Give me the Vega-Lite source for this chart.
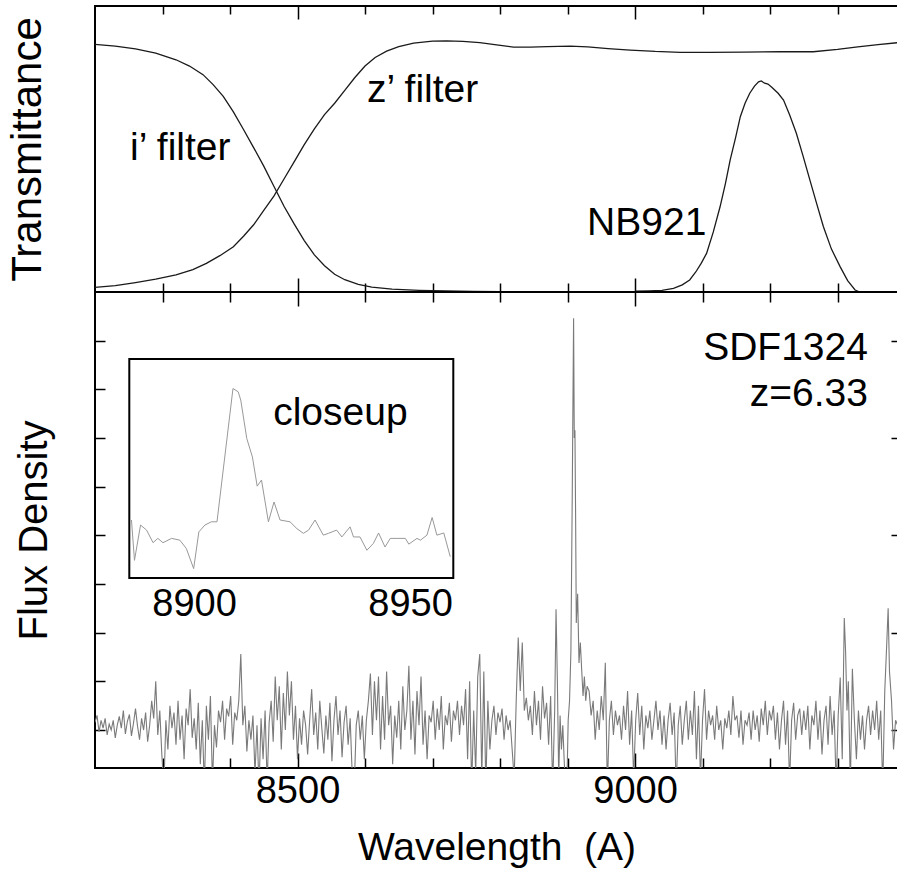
{
  "$schema": "https://vega.github.io/schema/vega-lite/v6.json",
  "padding": {"left": 4, "top": 4, "right": 0, "bottom": 0},
  "spacing": 0,
  "bounds": "flush",
  "config": {
    "font": "Liberation Sans",
    "view": {"stroke": "black", "strokeWidth": 2},
    "axis": {"domain": false, "grid": false, "labelFont": "Liberation Sans", "labelFontSize": 38, "labelColor": "black", "titleFont": "Liberation Sans", "titleFontSize": 40, "titleFontWeight": "normal", "titleColor": "black", "tickColor": "black", "tickWidth": 1.5, "zindex": 1},
    "text": {"font": "Liberation Sans", "fontSize": 39, "color": "black"}
  },
  "vconcat": [
    {
      "width": 803,
      "height": 286,
      "layer": [
        {
          "data": {"values": [
            {"filter":"i","w":8200,"t":0.866},{"filter":"i","w":8230,"t":0.86},{"filter":"i","w":8260,"t":0.85},{"filter":"i","w":8290,"t":0.835},{"filter":"i","w":8320,"t":0.812},{"filter":"i","w":8340,"t":0.79},{"filter":"i","w":8360,"t":0.76},{"filter":"i","w":8375,"t":0.725},{"filter":"i","w":8390,"t":0.684},{"filter":"i","w":8405,"t":0.63},{"filter":"i","w":8420,"t":0.568},{"filter":"i","w":8435,"t":0.505},{"filter":"i","w":8450,"t":0.44},{"filter":"i","w":8465,"t":0.37},{"filter":"i","w":8480,"t":0.3},{"filter":"i","w":8495,"t":0.238},{"filter":"i","w":8510,"t":0.18},{"filter":"i","w":8525,"t":0.13},{"filter":"i","w":8540,"t":0.092},{"filter":"i","w":8555,"t":0.062},{"filter":"i","w":8570,"t":0.043},{"filter":"i","w":8590,"t":0.027},{"filter":"i","w":8610,"t":0.017},{"filter":"i","w":8640,"t":0.01},{"filter":"i","w":8680,"t":0.006},{"filter":"i","w":8720,"t":0.004},{"filter":"i","w":8760,"t":0.002},{"filter":"i","w":8800,"t":0.001},
            {"filter":"z","w":8200,"t":0.016},{"filter":"z","w":8230,"t":0.022},{"filter":"z","w":8260,"t":0.033},{"filter":"z","w":8290,"t":0.045},{"filter":"z","w":8320,"t":0.06},{"filter":"z","w":8345,"t":0.078},{"filter":"z","w":8365,"t":0.1},{"filter":"z","w":8385,"t":0.127},{"filter":"z","w":8405,"t":0.158},{"filter":"z","w":8420,"t":0.195},{"filter":"z","w":8435,"t":0.235},{"filter":"z","w":8450,"t":0.285},{"filter":"z","w":8465,"t":0.335},{"filter":"z","w":8480,"t":0.395},{"filter":"z","w":8495,"t":0.455},{"filter":"z","w":8510,"t":0.515},{"filter":"z","w":8525,"t":0.57},{"filter":"z","w":8540,"t":0.62},{"filter":"z","w":8555,"t":0.66},{"filter":"z","w":8570,"t":0.705},{"filter":"z","w":8585,"t":0.75},{"filter":"z","w":8600,"t":0.79},{"filter":"z","w":8615,"t":0.82},{"filter":"z","w":8632,"t":0.842},{"filter":"z","w":8650,"t":0.858},{"filter":"z","w":8672,"t":0.87},{"filter":"z","w":8700,"t":0.877},{"filter":"z","w":8721,"t":0.878},{"filter":"z","w":8745,"t":0.876},{"filter":"z","w":8770,"t":0.872},{"filter":"z","w":8795,"t":0.864},{"filter":"z","w":8820,"t":0.856},{"filter":"z","w":8845,"t":0.856},{"filter":"z","w":8870,"t":0.858},{"filter":"z","w":8904,"t":0.86},{"filter":"z","w":8930,"t":0.857},{"filter":"z","w":8960,"t":0.851},{"filter":"z","w":8993,"t":0.846},{"filter":"z","w":9030,"t":0.841},{"filter":"z","w":9067,"t":0.838},{"filter":"z","w":9110,"t":0.838},{"filter":"z","w":9160,"t":0.839},{"filter":"z","w":9215,"t":0.84},{"filter":"z","w":9264,"t":0.84},{"filter":"z","w":9300,"t":0.848},{"filter":"z","w":9330,"t":0.857},{"filter":"z","w":9360,"t":0.865},{"filter":"z","w":9390,"t":0.872},
            {"filter":"nb","w":9000,"t":0.003},{"filter":"nb","w":9020,"t":0.004},{"filter":"nb","w":9040,"t":0.006},{"filter":"nb","w":9057,"t":0.013},{"filter":"nb","w":9070,"t":0.025},{"filter":"nb","w":9081,"t":0.042},{"filter":"nb","w":9090,"t":0.07},{"filter":"nb","w":9098,"t":0.1},{"filter":"nb","w":9106,"t":0.135},{"filter":"nb","w":9116,"t":0.21},{"filter":"nb","w":9126,"t":0.298},{"filter":"nb","w":9134,"t":0.38},{"filter":"nb","w":9141,"t":0.462},{"filter":"nb","w":9149,"t":0.54},{"filter":"nb","w":9156,"t":0.613},{"filter":"nb","w":9163,"t":0.66},{"filter":"nb","w":9170,"t":0.695},{"filter":"nb","w":9177,"t":0.72},{"filter":"nb","w":9183,"t":0.735},{"filter":"nb","w":9187,"t":0.738},{"filter":"nb","w":9192,"t":0.73},{"filter":"nb","w":9197,"t":0.727},{"filter":"nb","w":9203,"t":0.715},{"filter":"nb","w":9212,"t":0.695},{"filter":"nb","w":9220,"t":0.671},{"filter":"nb","w":9229,"t":0.62},{"filter":"nb","w":9239,"t":0.555},{"filter":"nb","w":9249,"t":0.475},{"filter":"nb","w":9259,"t":0.392},{"filter":"nb","w":9269,"t":0.31},{"filter":"nb","w":9279,"t":0.229},{"filter":"nb","w":9291,"t":0.15},{"filter":"nb","w":9304,"t":0.088},{"filter":"nb","w":9315,"t":0.04},{"filter":"nb","w":9326,"t":0.007},{"filter":"nb","w":9333,"t":0.0}
          ]},
          "mark": {"type": "line", "color": "#1a1a1a", "strokeWidth": 1.3},
          "encoding": {
            "x": {"field": "w", "type": "quantitative", "scale": {"domain": [8200, 9389.6], "nice": false, "zero": false},
                  "axis": {"orient": "bottom", "values": [8300,8400,8500,8600,8700,8800,8900,9000,9100,9200,9300], "labels": false, "title": null,
                           "tickSize": {"condition": {"test": "datum.value % 500 === 0", "value": -14}, "value": -9}}},
            "y": {"field": "t", "type": "quantitative", "scale": {"domain": [0, 1], "nice": false},
                  "axis": {"ticks": false, "labels": false, "title": "Transmittance", "titleFontSize": 42, "titlePadding": 46}},
            "detail": {"field": "filter"}
          }
        },
        {
          "data": {"values": [
            {"label": "i’ filter", "w": 8252, "t": 0.4615},
            {"label": "z’ filter", "w": 8603, "t": 0.664},
            {"label": "NB921", "w": 8929, "t": 0.199}
          ]},
          "mark": {"type": "text", "align": "left", "baseline": "alphabetic"},
          "encoding": {
            "x": {"field": "w", "type": "quantitative", "scale": {"domain": [8200, 9389.6], "nice": false, "zero": false},
                  "axis": {"orient": "top", "values": [8300,8400,8500,8600,8700,8800,8900,9000,9100,9200,9300], "labels": false, "title": null,
                           "tickSize": {"condition": {"test": "datum.value % 500 === 0", "value": -13}, "value": -8}}},
            "y": {"field": "t", "type": "quantitative", "scale": {"domain": [0, 1], "nice": false}, "axis": null},
            "text": {"field": "label"}
          }
        }
      ],
      "resolve": {"axis": {"x": "independent", "y": "independent"}}
    },
    {
      "width": 803,
      "height": 476,
      "layer": [
        {
          "layer": [
            {
              "data": {"values": [
                {"w":8200,"f":0.08},{"w":8203,"f":0.15},{"w":8206,"f":-0.02},{"w":8209,"f":0.10},{"w":8212,"f":0.02},{"w":8215,"f":0.12},{"w":8218,"f":-0.05},{"w":8221,"f":0.06},{"w":8224,"f":0.00},{"w":8227,"f":0.10},{"w":8230,"f":-0.08},{"w":8233,"f":0.05},{"w":8236,"f":0.14},{"w":8239,"f":0.02},{"w":8242,"f":0.20},{"w":8245,"f":-0.04},{"w":8248,"f":0.09},{"w":8251,"f":0.16},{"w":8254,"f":-0.06},{"w":8257,"f":0.07},{"w":8260,"f":0.22},{"w":8263,"f":0.04},{"w":8266,"f":-0.10},{"w":8269,"f":0.12},{"w":8272,"f":0.00},{"w":8275,"f":0.18},{"w":8278,"f":-0.12},
                {"w":8281,"f":0.05},{"w":8284,"f":0.30},{"w":8287,"f":0.12},{"w":8290,"f":0.50},{"w":8293,"f":-0.05},{"w":8296,"f":0.20},{"w":8299,"f":-0.25},{"w":8302,"f":-0.60},{"w":8305,"f":0.10},{"w":8308,"f":-0.20},{"w":8311,"f":0.25},{"w":8314,"f":0.02},{"w":8317,"f":0.18},{"w":8320,"f":-0.15},{"w":8323,"f":0.30},{"w":8326,"f":-0.10},{"w":8329,"f":0.15},{"w":8332,"f":-0.30},{"w":8335,"f":0.22},{"w":8338,"f":0.05},{"w":8341,"f":0.42},{"w":8344,"f":-0.08},{"w":8347,"f":0.12},{"w":8350,"f":-0.20},{"w":8353,"f":0.28},{"w":8356,"f":-0.35},{"w":8359,"f":0.10},{"w":8362,"f":-0.60},{"w":8365,"f":0.25},{"w":8368,"f":-0.10},{"w":8371,"f":0.35},{"w":8374,"f":-0.55},{"w":8377,"f":0.05},{"w":8380,"f":-0.18},{"w":8383,"f":0.20},{"w":8386,"f":0.08},{"w":8389,"f":0.30},{"w":8392,"f":-0.10},{"w":8395,"f":0.22},{"w":8398,"f":0.14},
                {"w":8401,"f":0.35},{"w":8404,"f":-0.15},{"w":8407,"f":0.18},{"w":8410,"f":0.10},{"w":8413,"f":0.30},{"w":8416,"f":0.78},{"w":8419,"f":0.05},{"w":8422,"f":0.25},{"w":8425,"f":-0.22},{"w":8428,"f":0.10},{"w":8431,"f":-0.10},{"w":8434,"f":0.15},{"w":8437,"f":-0.45},{"w":8440,"f":0.05},{"w":8443,"f":-0.60},{"w":8446,"f":0.12},{"w":8449,"f":-0.30},{"w":8452,"f":0.20},{"w":8455,"f":-0.55},{"w":8458,"f":0.08},{"w":8461,"f":0.30},{"w":8464,"f":-0.12},{"w":8467,"f":0.55},{"w":8470,"f":0.10},{"w":8473,"f":0.45},{"w":8476,"f":-0.20},{"w":8479,"f":0.38},{"w":8482,"f":0.00},{"w":8485,"f":0.60},{"w":8488,"f":0.15},{"w":8491,"f":0.50},{"w":8494,"f":-0.10},{"w":8497,"f":0.25},
                {"w":8500,"f":-0.30},{"w":8503,"f":0.12},{"w":8506,"f":-0.15},{"w":8509,"f":0.20},{"w":8512,"f":0.05},{"w":8515,"f":-0.25},{"w":8518,"f":0.10},{"w":8521,"f":0.42},{"w":8524,"f":-0.05},{"w":8527,"f":0.18},{"w":8530,"f":-0.20},{"w":8533,"f":0.30},{"w":8536,"f":0.02},{"w":8539,"f":-0.24},{"w":8542,"f":0.15},{"w":8545,"f":-0.10},{"w":8548,"f":0.28},{"w":8551,"f":-0.32},{"w":8554,"f":0.10},{"w":8557,"f":0.35},{"w":8560,"f":-0.05},{"w":8563,"f":0.20},{"w":8566,"f":-0.28},{"w":8569,"f":0.08},{"w":8572,"f":0.25},{"w":8575,"f":-0.15},{"w":8578,"f":0.12},{"w":8581,"f":-0.45},{"w":8584,"f":-0.60},{"w":8587,"f":0.05},{"w":8590,"f":0.20},{"w":8593,"f":-0.10},{"w":8596,"f":0.15},{"w":8599,"f":-0.30},
                {"w":8602,"f":0.10},{"w":8605,"f":0.30},{"w":8608,"f":0.58},{"w":8611,"f":-0.05},{"w":8614,"f":0.50},{"w":8617,"f":0.10},{"w":8620,"f":0.55},{"w":8623,"f":-0.20},{"w":8626,"f":0.35},{"w":8629,"f":-0.10},{"w":8632,"f":0.60},{"w":8635,"f":0.05},{"w":8638,"f":0.25},{"w":8641,"f":-0.35},{"w":8644,"f":0.15},{"w":8647,"f":-0.08},{"w":8650,"f":0.30},{"w":8653,"f":-0.20},{"w":8656,"f":0.45},{"w":8659,"f":0.00},{"w":8662,"f":0.20},{"w":8665,"f":0.66},{"w":8668,"f":-0.10},{"w":8671,"f":0.30},{"w":8674,"f":-0.25},{"w":8677,"f":0.40},{"w":8680,"f":0.05},{"w":8683,"f":0.55},{"w":8686,"f":-0.15},{"w":8689,"f":0.20},{"w":8692,"f":-0.30},{"w":8695,"f":0.15},{"w":8698,"f":0.08},
                {"w":8701,"f":0.30},{"w":8704,"f":-0.10},{"w":8707,"f":0.22},{"w":8710,"f":0.00},{"w":8713,"f":0.35},{"w":8716,"f":-0.20},{"w":8719,"f":0.15},{"w":8722,"f":0.05},{"w":8725,"f":0.28},{"w":8728,"f":-0.12},{"w":8731,"f":0.20},{"w":8734,"f":0.10},{"w":8737,"f":0.30},{"w":8740,"f":-0.05},{"w":8743,"f":0.25},{"w":8746,"f":0.05},{"w":8749,"f":0.42},{"w":8752,"f":-0.30},{"w":8755,"f":0.50},{"w":8758,"f":-0.60},{"w":8761,"f":0.20},{"w":8764,"f":-0.45},{"w":8767,"f":0.55},{"w":8770,"f":0.78},{"w":8773,"f":-0.50},{"w":8776,"f":0.60},{"w":8779,"f":-0.60},{"w":8782,"f":0.30},{"w":8785,"f":-0.20},{"w":8788,"f":0.10},{"w":8791,"f":0.25},{"w":8794,"f":-0.05},{"w":8797,"f":0.18},
                {"w":8800,"f":0.08},{"w":8803,"f":0.22},{"w":8806,"f":-0.10},{"w":8809,"f":0.15},{"w":8812,"f":0.00},{"w":8815,"f":0.10},{"w":8818,"f":-0.20},{"w":8821,"f":-0.50},{"w":8824,"f":0.30},{"w":8827,"f":0.95},{"w":8830,"f":0.40},{"w":8833,"f":0.90},{"w":8836,"f":0.20},{"w":8839,"f":0.33},{"w":8842,"f":0.10},{"w":8845,"f":0.25},{"w":8848,"f":-0.05},{"w":8851,"f":0.40},{"w":8854,"f":0.05},{"w":8857,"f":0.30},{"w":8860,"f":-0.10},{"w":8863,"f":0.45},{"w":8866,"f":0.12},{"w":8869,"f":0.28},{"w":8872,"f":-0.15},{"w":8875,"f":0.35},{"w":8878,"f":-0.60},{"w":8881,"f":0.20},{"w":8883,"f":1.24},{"w":8885,"f":0.50},{"w":8887,"f":-0.50},{"w":8889,"f":0.15},{"w":8891,"f":-0.20},{"w":8893,"f":0.05},{"w":8895,"f":-0.30},{"w":8897,"f":-0.60},{"w":8899,"f":-0.60},
                {"w":8901,"f":0.10},{"w":8903,"f":0.30},{"w":8905,"f":0.80},{"w":8907,"f":2.40},{"w":8909,"f":4.23},{"w":8910,"f":3.00},{"w":8911,"f":3.08},{"w":8912,"f":2.20},{"w":8913,"f":1.10},{"w":8915,"f":1.40},{"w":8917,"f":0.69},{"w":8919,"f":0.90},{"w":8921,"f":0.62},{"w":8923,"f":0.35},{"w":8925,"f":0.55},{"w":8927,"f":0.30},{"w":8929,"f":0.45},{"w":8932,"f":0.40},{"w":8935,"f":0.15},{"w":8938,"f":0.30},{"w":8941,"f":-0.10},{"w":8944,"f":0.20},{"w":8947,"f":0.00},{"w":8950,"f":0.35},{"w":8953,"f":0.10},{"w":8956,"f":0.69},{"w":8959,"f":-0.60},{"w":8962,"f":0.10},{"w":8965,"f":0.30},{"w":8968,"f":-0.05},{"w":8971,"f":0.20},{"w":8974,"f":0.05},{"w":8977,"f":0.15},{"w":8980,"f":-0.10},{"w":8983,"f":0.25},{"w":8986,"f":0.00},{"w":8989,"f":0.40},{"w":8992,"f":-0.15},{"w":8995,"f":0.20},{"w":8998,"f":-0.50},
                {"w":9001,"f":0.10},{"w":9004,"f":0.38},{"w":9007,"f":-0.05},{"w":9010,"f":0.25},{"w":9013,"f":-0.20},{"w":9016,"f":0.15},{"w":9019,"f":0.02},{"w":9022,"f":0.20},{"w":9025,"f":-0.10},{"w":9028,"f":0.10},{"w":9031,"f":0.30},{"w":9034,"f":0.00},{"w":9037,"f":0.20},{"w":9040,"f":-0.15},{"w":9043,"f":0.15},{"w":9046,"f":-0.20},{"w":9049,"f":0.10},{"w":9052,"f":0.28},{"w":9055,"f":-0.05},{"w":9058,"f":0.18},{"w":9061,"f":-0.60},{"w":9064,"f":0.05},{"w":9067,"f":0.25},{"w":9070,"f":-0.15},{"w":9073,"f":0.10},{"w":9076,"f":0.30},{"w":9079,"f":-0.10},{"w":9082,"f":0.20},{"w":9085,"f":-0.05},{"w":9088,"f":0.40},{"w":9091,"f":-0.30},{"w":9094,"f":0.25},{"w":9097,"f":-0.50},
                {"w":9100,"f":0.10},{"w":9103,"f":0.42},{"w":9106,"f":-0.10},{"w":9109,"f":0.20},{"w":9112,"f":0.05},{"w":9115,"f":0.15},{"w":9118,"f":-0.10},{"w":9121,"f":0.25},{"w":9124,"f":0.00},{"w":9127,"f":0.10},{"w":9130,"f":-0.20},{"w":9133,"f":0.12},{"w":9136,"f":0.02},{"w":9139,"f":0.20},{"w":9142,"f":-0.05},{"w":9145,"f":0.35},{"w":9148,"f":0.10},{"w":9151,"f":0.15},{"w":9154,"f":-0.08},{"w":9157,"f":0.20},{"w":9160,"f":-0.15},{"w":9163,"f":0.10},{"w":9166,"f":0.05},{"w":9169,"f":0.18},{"w":9172,"f":-0.10},{"w":9175,"f":0.20},{"w":9178,"f":0.00},{"w":9181,"f":0.15},{"w":9184,"f":-0.12},{"w":9187,"f":0.22},{"w":9190,"f":0.05},{"w":9193,"f":0.30},{"w":9196,"f":-0.05},{"w":9199,"f":0.20},
                {"w":9202,"f":0.10},{"w":9205,"f":0.25},{"w":9208,"f":-0.10},{"w":9211,"f":0.18},{"w":9214,"f":-0.20},{"w":9217,"f":0.10},{"w":9220,"f":0.30},{"w":9223,"f":-0.15},{"w":9226,"f":0.20},{"w":9229,"f":-0.55},{"w":9232,"f":0.10},{"w":9235,"f":0.28},{"w":9238,"f":-0.10},{"w":9241,"f":0.15},{"w":9244,"f":0.22},{"w":9247,"f":-0.05},{"w":9250,"f":0.20},{"w":9253,"f":0.00},{"w":9256,"f":0.25},{"w":9259,"f":-0.20},{"w":9262,"f":0.15},{"w":9265,"f":0.05},{"w":9268,"f":0.30},{"w":9271,"f":-0.10},{"w":9274,"f":0.20},{"w":9277,"f":-0.25},{"w":9280,"f":0.10},{"w":9283,"f":0.25},{"w":9286,"f":-0.15},{"w":9289,"f":0.35},{"w":9292,"f":-0.05},{"w":9295,"f":0.20},{"w":9298,"f":-0.60},
                {"w":9301,"f":0.15},{"w":9304,"f":0.54},{"w":9307,"f":-0.30},{"w":9310,"f":1.15},{"w":9312,"f":0.80},{"w":9314,"f":0.20},{"w":9316,"f":0.50},{"w":9319,"f":-0.60},{"w":9322,"f":0.63},{"w":9325,"f":0.10},{"w":9328,"f":-0.30},{"w":9331,"f":0.20},{"w":9334,"f":-0.10},{"w":9337,"f":0.15},{"w":9340,"f":-0.20},{"w":9343,"f":0.10},{"w":9346,"f":0.25},{"w":9349,"f":-0.05},{"w":9352,"f":0.20},{"w":9355,"f":0.00},{"w":9358,"f":0.30},{"w":9361,"f":-0.10},{"w":9364,"f":0.20},{"w":9367,"f":-0.60},{"w":9370,"f":0.40},{"w":9373,"f":0.90},{"w":9375,"f":1.25},{"w":9377,"f":0.60},{"w":9380,"f":0.30},{"w":9383,"f":-0.20},{"w":9386,"f":0.10},{"w":9389,"f":0.05}
              ]},
              "mark": {"type": "line", "color": "#7a7a7a", "strokeWidth": 1.1, "clip": true},
              "encoding": {
                "x": {"field": "w", "type": "quantitative", "scale": {"domain": [8200, 9389.6], "nice": false, "zero": false},
                      "axis": {"orient": "bottom", "values": [8300,8400,8500,8600,8700,8800,8900,9000,9100,9200,9300], "format": "d",
                               "labelExpr": "datum.value % 500 === 0 ? datum.label : ''",
                               "tickSize": {"condition": {"test": "datum.value % 500 === 0", "value": -15}, "value": -10},
                               "labelPadding": 19, "title": "Wavelength\u00a0\u00a0(A)", "titleFontSize": 39, "titlePadding": 18}},
                "y": {"field": "f", "type": "quantitative", "scale": {"domain": [-0.39, 4.5], "nice": false, "zero": false},
                      "axis": {"orient": "left", "values": [0,0.5,1,1.5,2,2.5,3,3.5,4], "labels": false, "tickSize": -10, "title": "Flux Density", "titlePadding": 40}}
              }
            },
            {
              "data": {"values": [
                {"label": "SDF1324", "w": 9345, "f": 3.80},
                {"label": "z=6.33", "w": 9345, "f": 3.33}
              ]},
              "mark": {"type": "text", "align": "right", "baseline": "alphabetic"},
              "encoding": {
                "x": {"field": "w", "type": "quantitative", "scale": {"domain": [8200, 9389.6], "nice": false, "zero": false},
                      "axis": {"orient": "top", "values": [8300,8400,8500,8600,8700,8800,8900,9000,9100,9200,9300], "labels": false, "title": null,
                               "tickSize": {"condition": {"test": "datum.value % 500 === 0", "value": -14}, "value": -10}}},
                "y": {"field": "f", "type": "quantitative", "scale": {"domain": [-0.39, 4.5], "nice": false, "zero": false},
                      "axis": {"orient": "right", "values": [0,1,2,3,4], "labels": false, "tickSize": -7, "title": null}},
                "text": {"field": "label"}
              }
            }
          ],
          "resolve": {"axis": {"x": "independent", "y": "independent"}}
        },
        {
          "layer": [
            {
              "data": {"values": [{}]},
              "mark": {"type": "rect", "fill": "white", "stroke": "black", "strokeWidth": 2},
              "encoding": {
                "x": {"datum": 8885, "type": "quantitative", "scale": {"domain": [8885, 8960], "range": [34.3, 358.3], "nice": false, "zero": false},
                      "axis": {"orient": "bottom", "offset": -190, "values": [8890,8895,8900,8905,8910,8915,8920,8925,8930,8935,8940,8945,8950,8955], "format": "d",
                               "labelExpr": "datum.value % 50 === 0 ? datum.label : ''",
                               "tickSize": {"condition": {"test": "datum.value % 50 === 0", "value": -10}, "value": -5},
                               "labelPadding": 17, "title": null}},
                "x2": {"datum": 8960},
                "y": {"datum": -1.05, "type": "quantitative", "scale": {"domain": [-1.05, 5.03], "range": [286, 67], "nice": false, "zero": false}, "axis": null},
                "y2": {"datum": 5.03}
              }
            },
            {
              "data": {"values": [
                {"w":8885.5,"v":0.56},{"w":8886.2,"v":-0.56},{"w":8887.6,"v":0.42},{"w":8889,"v":0.28},{"w":8890.5,"v":-0.07},{"w":8891.6,"v":0.05},{"w":8892.8,"v":-0.07},{"w":8894.8,"v":0.05},{"w":8896.7,"v":0.0},{"w":8898.2,"v":-0.23},{"w":8899.9,"v":-0.79},{"w":8901.1,"v":0.23},{"w":8902.5,"v":0.42},{"w":8904,"v":0.51},{"w":8905.3,"v":0.51},{"w":8909,"v":4.21},{"w":8910.2,"v":4.12},{"w":8910.8,"v":3.89},{"w":8912.2,"v":2.82},{"w":8913.5,"v":2.31},{"w":8914.6,"v":1.5},{"w":8915.6,"v":1.67},{"w":8917.2,"v":0.51},{"w":8918.5,"v":1.06},{"w":8919.9,"v":0.56},{"w":8922.2,"v":0.51},{"w":8923.8,"v":0.32},{"w":8925.3,"v":0.19},{"w":8926.5,"v":0.28},{"w":8928,"v":0.56},{"w":8929.9,"v":0.14},{"w":8931.1,"v":0.19},{"w":8933,"v":0.28},{"w":8934.2,"v":0.09},{"w":8936.1,"v":0.37},{"w":8936.9,"v":0.09},{"w":8938.4,"v":0.09},{"w":8940,"v":-0.28},{"w":8941.5,"v":-0.09},{"w":8942.7,"v":0.2},{"w":8944.2,"v":-0.19},{"w":8945.4,"v":0.05},{"w":8947,"v":0.05},{"w":8948.9,"v":0.05},{"w":8949.7,"v":-0.11},{"w":8951.6,"v":0.05},{"w":8952.4,"v":0.0},{"w":8953.9,"v":0.14},{"w":8955.1,"v":0.63},{"w":8956.2,"v":0.14},{"w":8957.8,"v":0.2},{"w":8959.3,"v":-0.46}
              ]},
              "mark": {"type": "line", "color": "#999999", "strokeWidth": 1},
              "encoding": {
                "x": {"field": "w", "type": "quantitative", "scale": {"domain": [8885, 8960], "range": [34.3, 358.3], "nice": false, "zero": false},
                      "axis": {"orient": "top", "offset": -67, "values": [8890,8895,8900,8905,8910,8915,8920,8925,8930,8935,8940,8945,8950,8955], "labels": false, "title": null,
                               "tickSize": {"condition": {"test": "datum.value % 50 === 0", "value": -10}, "value": -6}}},
                "y": {"field": "v", "type": "quantitative", "scale": {"domain": [-1.05, 5.03], "range": [286, 67], "nice": false, "zero": false}, "axis": null}
              }
            },
            {
              "data": {"values": [{"label": "closeup", "w": 8918.3, "v": 3.19}]},
              "mark": {"type": "text", "align": "left", "baseline": "alphabetic"},
              "encoding": {
                "x": {"field": "w", "type": "quantitative", "scale": {"domain": [8885, 8960], "range": [34.3, 358.3], "nice": false, "zero": false}, "axis": null},
                "y": {"field": "v", "type": "quantitative", "scale": {"domain": [-1.05, 5.03], "range": [286, 67], "nice": false, "zero": false}, "axis": null},
                "text": {"field": "label"}
              }
            }
          ],
          "resolve": {"axis": {"x": "independent", "y": "independent"}}
        }
      ],
      "resolve": {"scale": {"x": "independent", "y": "independent"}, "axis": {"x": "independent", "y": "independent"}}
    }
  ]
}
